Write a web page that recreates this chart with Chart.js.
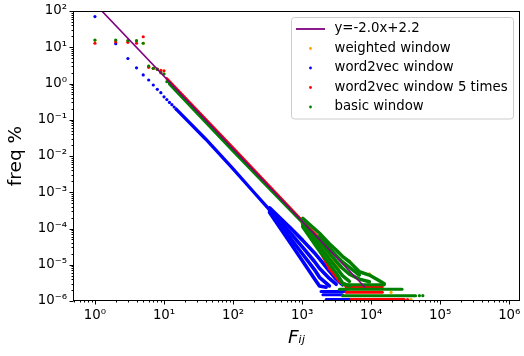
<!DOCTYPE html>
<html>
<head>
<meta charset="utf-8">
<script src="https://cdn.jsdelivr.net/npm/chart.js@4.4.1/dist/chart.umd.min.js"></script>
<style>
  html, body { margin: 0; padding: 0; background: #fff; }
  #wrap { width: 524px; height: 356px; }
</style>
</head>
<body>
<div id="wrap"><canvas id="freqChart"></canvas></div>
<script>
// x = F_ij, y = freq %  (both log)
const xTicks = [1, 10, 100, 1000, 10000, 100000, 1000000];
const xTickLabels = ['10⁰', '10¹', '10²', '10³', '10⁴', '10⁵', '10⁶'];
const yTicks = [1e-6, 1e-5, 1e-4, 1e-3, 1e-2, 1e-1, 1, 10, 100];
const yTickLabels = ['10⁻⁶', '10⁻⁵', '10⁻⁴', '10⁻³', '10⁻²', '10⁻¹', '10⁰', '10¹', '10²'];
const minorSteps = [2, 3, 4, 5, 6, 7, 8, 9];

const seriesNames = ['y=-2.0x+2.2', 'weighted window', 'word2vec window', 'word2vec window 5 times', 'basic window'];
const seriesColors = ['#800080', '#ffa500', '#0000ff', '#ff0000', '#008000'];

// fitted line
const fitX = [1, 8200];
const fitY = [158.5, 2.36e-6];

// weighted window (almost all of it sits under the red / green points)
const weightedX = [1, 2, 3, 4, 5, 6, 7, 8, 9, 10];
const weightedY = [15.5, 15.5, 15, 15, 12.9, 3.0, 2.6, 2.45, 2.0, 1.85];
const weightedRidgeX = [11, 100, 1000, 3470];
const weightedRidgeY = [1.3, 0.0157, 1.55e-4, 8e-6];
const weightedTailX = [4840, 9420, 19400, 37700];
const weightedTailY = [1.27e-5, 5.6e-6, 1.74e-6, 1.1e-6];

// word2vec window
const w2vX = [1, 2, 3, 4, 5, 6, 7, 8, 9, 10, 11, 12, 13, 14, 15];
const w2vY = [70, 12.5, 4.9, 2.7, 1.72, 1.25, 0.91, 0.69, 0.56, 0.43, 0.36, 0.30, 0.26, 0.225, 0.195];
const w2vRidgeX = [15, 40, 95, 200, 338];
const w2vRidgeY = [0.197, 0.0295, 4.95e-3, 1.0e-3, 3.25e-4];
const w2vFan1X = [338, 657, 1020, 1500, 1785, 2480, 3110, 3840];
const w2vFan1Y = [3.7e-4, 1.1e-4, 4.7e-5, 2.15e-5, 1.45e-5, 6.7e-6, 4.05e-6, 2.8e-6];
const w2vFan2X = [338, 657, 1020, 1500, 1785, 2480, 3110];
const w2vFan2Y = [3.3e-4, 8e-5, 3.0e-5, 1.25e-5, 8e-6, 4.2e-6, 2.9e-6];
const w2vFan3X = [338, 657, 1020, 1500, 1785, 2480];
const w2vFan3Y = [3.0e-4, 5.8e-5, 1.95e-5, 7.5e-6, 4.5e-6, 2.6e-6];
const w2vFan4X = [338, 657, 1020, 1500, 1785, 2230];
const w2vFan4Y = [2.75e-4, 4.3e-5, 1.25e-5, 4.2e-6, 2.6e-6, 2.4e-6];
const w2vRowY = [1.83e-6, 1.49e-6, 1.1e-6];
const w2vRowFrom = [1880, 2000, 2230];
const w2vRowTo = [4340, 3840, 5130];

// word2vec window 5 times
const w2v5X = [1, 2, 3, 4, 5, 6, 7, 8, 9, 10];
const w2v5Y = [12.9, 14, 13.7, 12.9, 19.5, 2.8, 2.63, 2.5, 2.3, 2.25];
const w2v5RidgeX = [11, 30, 100, 300, 1000, 1785, 2480, 3470, 4340];
const w2v5RidgeY = [1.40, 0.188, 0.0170, 1.88e-3, 1.69e-4, 5.4e-5, 2.8e-5, 1.45e-5, 9.3e-6];
const w2v5LowX = [1000, 1785, 2480, 3470, 4340];
const w2v5LowY = [1.42e-4, 2.5e-5, 8e-6, 3.5e-6, 2.6e-6];
const w2v5RowY = [2.48e-6, 1.74e-6, 1.1e-6];
const w2v5RowFrom = [4340, 4340, 5130];
const w2v5RowTo = [14500, 14500, 30200];
const w2v5TailX = [33700];
const w2v5TailY = [1.1e-6];

// basic window
const basicX = [1, 2, 3, 4, 5, 6, 7, 8, 9, 10, 11, 12];
const basicY = [15.8, 15.8, 15.2, 15.2, 12.9, 3.04, 2.63, 2.46, 1.99, 1.83, 1.12, 1.05];
const basicRidgeX = [12, 30, 100, 338, 657, 1020];
const basicRidgeY = [0.97, 0.155, 0.0139, 1.25e-3, 3.4e-4, 1.45e-4];
const basicFanTopX = [1020, 1785, 2480, 3110, 3840, 4840, 6750, 9420, 13900, 15500];
const basicFanTopY = [1.91e-4, 7.4e-5, 3.81e-5, 2.55e-5, 1.71e-5, 1.21e-5, 6.4e-6, 5.2e-6, 3.4e-6, 3.0e-6];
const basicFan0X = [1785, 2480, 3110, 3840, 4840, 6750];
const basicFan0Y = [6e-5, 2.9e-5, 1.8e-5, 1.2e-5, 8.5e-6, 5.2e-6];
const basicFan1X = [1020, 1785, 2480, 3110, 3840, 4840, 6750, 9420];
const basicFan1Y = [1.45e-4, 4.6e-5, 2.1e-5, 1.25e-5, 8e-6, 5.5e-6, 4.0e-6, 3.4e-6];
const basicFan2X = [1020, 1785, 2480, 3110, 3840, 4840];
const basicFan2Y = [1.25e-4, 3.3e-5, 1.45e-5, 8.5e-6, 5e-6, 3.5e-6];
const basicFanLowX = [1020, 1785, 2480, 3110, 3840, 4840];
const basicFanLowY = [1.12e-4, 2.39e-5, 1.05e-5, 5.9e-6, 3.14e-6, 2.6e-6];
const basicRowY = [2.8e-6, 2.1e-6, 1.4e-6];
const basicRowFrom = [3840, 3470, 3840];
const basicRowTo = [15500, 28000, 44000];
const basicTailX = [50000, 56000];
const basicTailY = [1.4e-6, 1.4e-6];

const FONT = 'DejaVu Sans';

function pts(xs, ys) {
    return xs.map((x, i) => ({x: x, y: ys[i]}));
}

const datasets = [];

function addDots(xs, ys, color, order) {
    datasets.push({
        data: pts(xs, ys), showLine: false, pointRadius: 1.6, pointBorderWidth: 0,
        pointBackgroundColor: color, borderColor: color, fill: false, order: order
    });
}

// dense runs of points are drawn as thick strokes
// (a diagonal stroke looks ~1.45x thicker vertically than its width)
function addRun(xs, ys, color, width, order) {
    datasets.push({
        data: pts(xs, ys), borderColor: color, borderWidth: width,
        borderCapStyle: 'round', borderJoinStyle: 'round',
        pointRadius: 0, fill: false, order: order
    });
}

// the flat runs at the lowest frequencies, one dataset each
function addRows(ys, from, to, color, order) {
    ys.forEach((y, i) => addRun([from[i], to[i]], [y, y], color, 3, order));
}

// fit line on top, then basic, 5 times, word2vec, weighted
datasets.push({
    data: pts(fitX, fitY), borderColor: seriesColors[0], borderWidth: 1.6,
    pointRadius: 0, fill: false, order: 0
});

const G = seriesColors[4], R = seriesColors[3], B = seriesColors[2], O = seriesColors[1];

addDots(basicX, basicY, G, 1);
addRun(basicRidgeX, basicRidgeY, G, 3.2, 1);
addRun(basicFanTopX, basicFanTopY, G, 3.5, 1);
addRun(basicFan0X, basicFan0Y, G, 3.5, 1);
addRun(basicFan1X, basicFan1Y, G, 3.5, 1);
addRun(basicFan2X, basicFan2Y, G, 3.5, 1);
addRun(basicFanLowX, basicFanLowY, G, 3.5, 1);
addRows(basicRowY, basicRowFrom, basicRowTo, G, 1);
addDots(basicTailX, basicTailY, G, 1);

addDots(w2v5X, w2v5Y, R, 2);
addRun(w2v5RidgeX, w2v5RidgeY, R, 2.4, 2);
addRun(w2v5LowX, w2v5LowY, R, 3, 2);
addRows(w2v5RowY, w2v5RowFrom, w2v5RowTo, R, 2);
addDots(w2v5TailX, w2v5TailY, R, 2);

addDots(w2vX, w2vY, B, 3);
addRun(w2vRidgeX, w2vRidgeY, B, 3.3, 3);
addRun(w2vFan1X, w2vFan1Y, B, 3.6, 3);
addRun(w2vFan2X, w2vFan2Y, B, 3.6, 3);
addRun(w2vFan3X, w2vFan3Y, B, 3.6, 3);
addRun(w2vFan4X, w2vFan4Y, B, 3.6, 3);
addRows(w2vRowY, w2vRowFrom, w2vRowTo, B, 3);

addDots(weightedX, weightedY, O, 4);
addRun(weightedRidgeX, weightedRidgeY, O, 2.4, 4);
addDots(weightedTailX, weightedTailY, O, 4);

// axes box, log ticks and the legend
const framePlugin = {
    id: 'frame',
    afterDraw(chart) {
        const ctx = chart.ctx;
        const a = chart.chartArea;
        const xs = chart.scales.x, ys = chart.scales.y;
        const L = Math.floor(a.left) + 0.5, Rt = Math.floor(a.right) - 0.5;
        const T = Math.floor(a.top) + 0.5, Bt = Math.floor(a.bottom) - 0.5;
        ctx.save();
        ctx.strokeStyle = '#000';
        ctx.lineWidth = 1;
        ctx.strokeRect(L, T, Rt - L, Bt - T);

        ctx.beginPath();
        for (let e = -7; e <= 7; e++) {
            const base = Math.pow(10, e);
            const vals = [[base, 4]].concat(minorSteps.map(m => [m * base, 2]));
            vals.forEach(([v, len]) => {
                if (v >= xs.min && v <= xs.max) {
                    const p = Math.round(xs.getPixelForValue(v)) + 0.5;
                    ctx.moveTo(p, Bt); ctx.lineTo(p, Bt + len);
                }
                if (v >= ys.min * 0.999 && v <= ys.max * 1.001) {
                    const p = Math.round(ys.getPixelForValue(v)) + 0.5;
                    ctx.moveTo(L, p); ctx.lineTo(L - len, p);
                }
            });
        }
        ctx.stroke();

        // legend
        const bw = 222, bh = 101.5;
        const bx = a.right - 6.5 - bw, by = a.top + 6.5;
        ctx.beginPath();
        ctx.roundRect(bx, by, bw, bh, 3);
        ctx.fillStyle = 'rgba(255,255,255,0.8)';
        ctx.fill();
        ctx.strokeStyle = '#cccccc';
        ctx.stroke();

        ctx.font = '13.3px "' + FONT + '"';
        ctx.textBaseline = 'middle';
        seriesNames.forEach((name, i) => {
            const cy = by + 11.5 + i * 19.5;
            if (i === 0) {
                ctx.strokeStyle = seriesColors[0];
                ctx.lineWidth = 1.8;
                ctx.beginPath();
                ctx.moveTo(bx + 4.5, cy); ctx.lineTo(bx + 33.5, cy);
                ctx.stroke();
            } else {
                ctx.fillStyle = seriesColors[i];
                ctx.beginPath();
                ctx.arc(bx + 19, cy, 1.4, 0, Math.PI * 2);
                ctx.fill();
            }
            ctx.fillStyle = '#000';
            ctx.fillText(name, bx + 43, cy);
        });
        ctx.restore();
    }
};

const ctx = document.getElementById('freqChart').getContext('2d');
const freqChart = new Chart(ctx, {
    type: 'line',
    data: { datasets: datasets },
    plugins: [framePlugin],
    options: {
        responsive: true,
        maintainAspectRatio: false,
        animation: false,
        events: [],
        elements: { line: { tension: 0 } },
        layout: { padding: { top: 11, right: 3, left: 0, bottom: 0 } },
        plugins: {
            legend: { display: false },
            tooltip: { enabled: false }
        },
        scales: {
            x: {
                type: 'logarithmic',
                min: 0.481,
                max: 1.43e6,
                grid: { display: false, drawTicks: false },
                border: { display: false },
                afterBuildTicks: (scale) => { scale.ticks = xTicks.map(v => ({value: v})); },
                afterFit: (scale) => { scale.height = 55; scale.paddingLeft = 0; scale.paddingRight = 0; },
                ticks: {
                    autoSkip: false, maxRotation: 0, padding: 7, color: '#000',
                    font: { family: FONT, size: 13.3 },
                    callback: (value, index) => xTickLabels[index]
                },
                title: {
                    display: true, text: 'Fᵢⱼ', color: '#000',
                    font: { family: FONT, size: 18.5, style: 'italic' },
                    padding: { top: 0, bottom: 7 }
                }
            },
            y: {
                type: 'logarithmic',
                min: 1e-6,
                max: 100,
                grid: { display: false, drawTicks: false },
                border: { display: false },
                afterBuildTicks: (scale) => { scale.ticks = yTicks.map(v => ({value: v})); },
                afterFit: (scale) => { scale.width = 73; scale.paddingTop = 0; scale.paddingBottom = 0; },
                ticks: {
                    autoSkip: false, padding: 6, color: '#000',
                    font: { family: FONT, size: 13.3 },
                    callback: (value, index) => yTickLabels[index]
                },
                title: {
                    display: true, text: 'freq %', color: '#000',
                    font: { family: FONT, size: 18.5 },
                    padding: { top: 5, bottom: 0 }
                }
            }
        }
    }
});
</script>
</body>
</html>
